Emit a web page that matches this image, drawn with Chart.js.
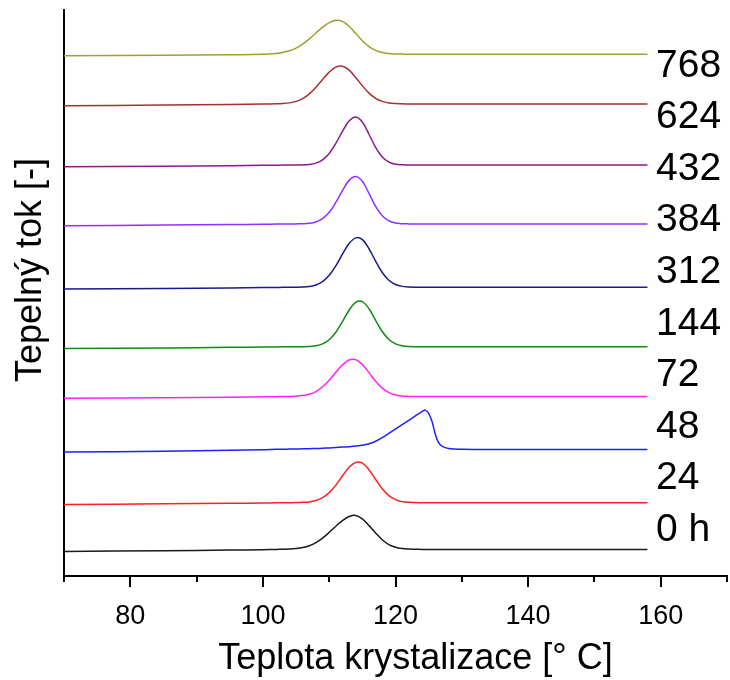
<!DOCTYPE html>
<html>
<head>
<meta charset="utf-8">
<script src="https://cdn.jsdelivr.net/npm/chart.js@4.4.1/dist/chart.umd.min.js"></script>
<style>
  html, body { margin: 0; padding: 0; background: #ffffff; }
  canvas { display: block; }
</style>
</head>
<body>
<canvas id="dsc" width="730" height="680"></canvas>
<script>
// Crystallization temperature grid [°C]
const temperature = [70, 85, 95, 100, 102, 103, 104, 105, 106, 107, 108, 109, 110, 111, 112, 113, 114, 115, 116, 117, 118, 119, 120, 121, 122, 123, 124, 124.5, 125, 125.5, 126, 126.5, 127, 128, 130, 135, 145, 158];

// Ageing times (bottom to top) and the vertical shift of each curve
const sampleLabels = ['0 h', '24', '48', '72', '144', '312', '384', '432', '624', '768'];
const baselineOffset = [4.7, 12.95, 22.35, 31.7, 40.5, 51.0, 62.2, 72.6, 83.4, 92.2];

// Heat flow signals [-] above each baseline
const flow0h  = [-0.35, -0.25, -0.12, -0.05, 0.0, 0.02, 0.06, 0.15, 0.32, 0.65, 1.2, 2.0, 3.0, 4.1, 5.1, 5.8, 6.0, 5.4, 4.2, 2.9, 1.7, 0.85, 0.38, 0.15, 0.05, 0.02, 0, 0, 0, 0, 0, 0, 0, 0, 0, 0, 0, 0];
const flow24  = [-0.3, -0.2, -0.1, -0.05, -0.02, 0, 0.01, 0.02, 0.06, 0.14, 0.38, 0.88, 1.78, 3.1, 4.75, 6.27, 7.1, 6.98, 5.83, 4.1, 2.47, 1.25, 0.55, 0.19, 0.06, 0.02, 0, 0, 0, 0, 0, 0, 0, 0, 0, 0, 0, 0];
const flow48  = [-0.45, -0.3, -0.15, -0.05, 0.03, 0.05, 0.07, 0.1, 0.12, 0.15, 0.18, 0.22, 0.28, 0.34, 0.42, 0.5, 0.6, 0.74, 1.0, 1.45, 2.1, 2.85, 3.62, 4.38, 5.15, 5.95, 6.7, 6.96, 6.4, 5.0, 2.7, 1.2, 0.6, 0.18, 0.05, 0, 0, 0];
const flow72  = [-0.3, -0.2, -0.1, -0.03, -0.01, 0.01, 0.02, 0.06, 0.17, 0.41, 0.89, 1.73, 2.9, 4.3, 5.6, 6.45, 6.52, 5.67, 4.23, 2.7, 1.49, 0.7, 0.28, 0.1, 0.03, 0, 0, 0, 0, 0, 0, 0, 0, 0, 0, 0, 0, 0];
const flow144 = [-0.3, -0.2, -0.1, -0.05, -0.02, 0, 0, 0, 0.01, 0.05, 0.17, 0.51, 1.25, 2.56, 4.45, 6.45, 7.85, 7.98, 6.72, 4.68, 2.7, 1.29, 0.51, 0.17, 0.04, 0.01, 0, 0, 0, 0, 0, 0, 0, 0, 0, 0, 0, 0];
const flow312 = [-0.3, -0.2, -0.1, -0.05, -0.02, 0, 0, 0.01, 0.04, 0.15, 0.41, 1.01, 2.13, 3.8, 5.86, 7.73, 8.74, 8.43, 6.82, 4.63, 2.62, 1.25, 0.5, 0.17, 0.05, 0.01, 0, 0, 0, 0, 0, 0, 0, 0, 0, 0, 0, 0];
const flow384 = [-0.3, -0.2, -0.1, -0.05, -0.02, 0, 0, 0.01, 0.03, 0.11, 0.35, 0.93, 2.05, 3.8, 5.9, 7.7, 8.4, 7.55, 5.4, 3.1, 1.43, 0.53, 0.16, 0.04, 0.01, 0, 0, 0, 0, 0, 0, 0, 0, 0, 0, 0, 0, 0];
const flow432 = [-0.3, -0.2, -0.1, -0.05, -0.02, 0, 0, 0.01, 0.03, 0.11, 0.35, 0.93, 2.05, 3.84, 5.97, 7.78, 8.5, 7.61, 5.45, 3.13, 1.44, 0.53, 0.16, 0.04, 0.01, 0, 0, 0, 0, 0, 0, 0, 0, 0, 0, 0, 0, 0];
const flow624 = [-0.3, -0.2, -0.1, -0.02, 0.02, 0.07, 0.19, 0.46, 0.95, 1.79, 2.95, 4.33, 5.63, 6.5, 6.66, 5.97, 4.68, 3.21, 1.92, 1.0, 0.46, 0.18, 0.06, 0.02, 0, 0, 0, 0, 0, 0, 0, 0, 0, 0, 0, 0, 0, 0];
const flow768 = [-0.3, -0.2, -0.1, -0.03, 0.12, 0.3, 0.59, 1.07, 1.77, 2.69, 3.74, 4.77, 5.58, 5.98, 5.8, 4.94, 3.66, 2.37, 1.34, 0.67, 0.29, 0.11, 0.04, 0.01, 0, 0, 0, 0, 0, 0, 0, 0, 0, 0, 0, 0, 0, 0];

const signals = [flow0h, flow24, flow48, flow72, flow144, flow312, flow384, flow432, flow624, flow768];
const lineColors = ['#1a1a1a', '#ff2020', '#2020ff', '#ff20ff', '#108a10', '#1a1a8a', '#9030ff', '#8a1a8a', '#a83030', '#a0a030'];

// X axis ticks: labelled majors and unlabelled minors
const majorTicks = [80, 100, 120, 140, 160];
const minorTicks = [70, 90, 110, 130, 150, 170];

const FONT = "'Liberation Sans', Arial, sans-serif";

const datasets = signals.map((sig, i) => ({
  label: sampleLabels[i],
  data: temperature.map((t, k) => ({ x: t, y: baselineOffset[i] + sig[k] })),
  borderColor: lineColors[i],
  borderWidth: 1.5,
  pointRadius: 0,
  fill: false,
  tension: 0.35
}));

// Tick marks, axis titles and the ageing-time labels on the right
const decorations = {
  id: 'decorations',
  afterDraw(chart) {
    const { ctx, chartArea } = chart;
    const xs = chart.scales.x;
    ctx.save();
    ctx.strokeStyle = '#000';
    ctx.lineWidth = 2;
    const tickMark = (v, len) => {
      const px = Math.round(xs.getPixelForValue(v));
      ctx.beginPath();
      ctx.moveTo(px, chartArea.bottom);
      ctx.lineTo(px, chartArea.bottom + len);
      ctx.stroke();
    };
    majorTicks.forEach(v => tickMark(v, 11));
    minorTicks.forEach(v => tickMark(v, 6));

    ctx.fillStyle = '#000';
    // x axis title
    ctx.font = '36px ' + FONT;
    ctx.textAlign = 'center';
    ctx.textBaseline = 'alphabetic';
    ctx.fillText('Teplota krystalizace [° C]', (chartArea.left + chartArea.right) / 2 + 20, 669);

    // y axis title
    ctx.save();
    ctx.translate(41, 270);
    ctx.rotate(-Math.PI / 2);
    ctx.fillText('Tepelný tok [-]', 0, 0);
    ctx.restore();

    // ageing-time labels, top to bottom
    ctx.font = '39px ' + FONT;
    ctx.textAlign = 'left';
    const n = sampleLabels.length;
    for (let k = 0; k < n; k++) {
      const label = sampleLabels[n - 1 - k];
      const cy = chartArea.top + 52.5 + k * 51.6;
      ctx.fillText(label, chartArea.right - 71, cy + 14);
    }
    ctx.restore();
  }
};

new Chart(document.getElementById('dsc'), {
  type: 'line',
  data: { datasets },
  options: {
    responsive: false,
    animation: false,
    devicePixelRatio: 1,
    layout: { autoPadding: false, padding: { top: 10, right: 3, left: 0, bottom: 0 } },
    plugins: { legend: { display: false }, tooltip: { enabled: false } },
    scales: {
      x: {
        type: 'linear',
        min: 70,
        max: 170,
        afterFit: (s) => { s.height = 104; s.paddingLeft = 0; s.paddingRight = 0; },
        grid: { display: false },
        border: { display: true, color: '#000', width: 2 },
        ticks: {
          stepSize: 10,
          autoSkip: false,
          maxRotation: 0,
          padding: 16,
          color: '#000',
          font: { family: FONT, size: 27 },
          callback: (v) => (majorTicks.includes(v) ? String(v) : '')
        }
      },
      y: {
        type: 'linear',
        min: 0,
        max: 100,
        afterFit: (s) => { s.width = 64; },
        grid: { display: false },
        border: { display: true, color: '#000', width: 2 },
        ticks: { display: false }
      }
    }
  },
  plugins: [decorations]
});
</script>
</body>
</html>
